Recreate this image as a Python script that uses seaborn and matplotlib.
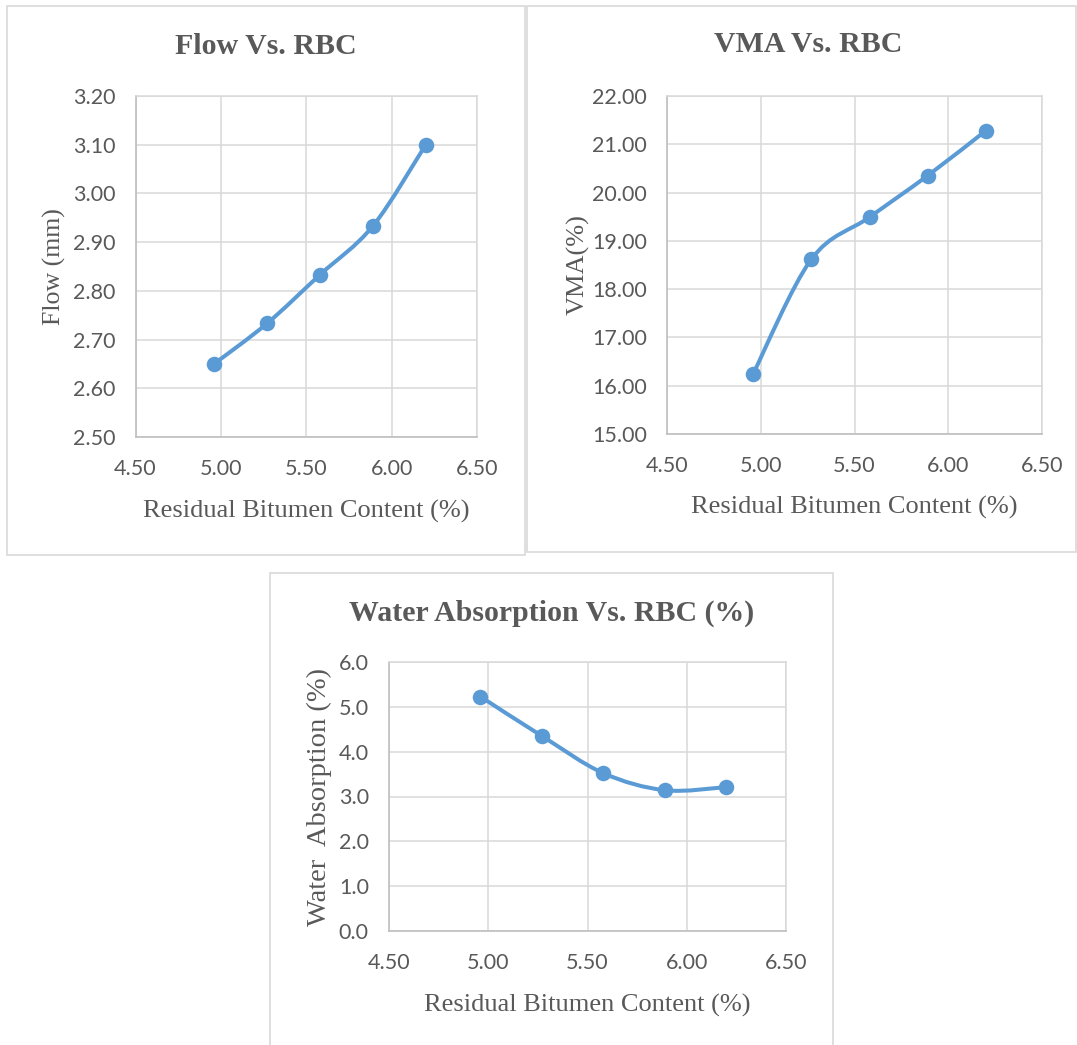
import numpy as np
import pandas as pd
import matplotlib
matplotlib.use("Agg")
import matplotlib.pyplot as plt
from matplotlib.path import Path
from matplotlib.patches import PathPatch, Rectangle
import seaborn as sns

# ---- data ----
rbc = [4.96, 5.27, 5.58, 5.89, 6.20]
flow_mm = [2.65, 2.733, 2.833, 2.933, 3.10]
vma_pct = [16.25, 18.62, 19.49, 20.35, 21.28]
water_abs = [5.23, 4.35, 3.52, 3.14, 3.21]

x_ticks = [4.50, 5.00, 5.50, 6.00, 6.50]
flow_ticks = [2.50, 2.60, 2.70, 2.80, 2.90, 3.00, 3.10, 3.20]
vma_ticks = [15.0, 16.0, 17.0, 18.0, 19.0, 20.0, 21.0, 22.0]
water_ticks = [0.0, 1.0, 2.0, 3.0, 4.0, 5.0, 6.0]

titles = ["Flow Vs. RBC", "VMA Vs. RBC", "Water Absorption Vs. RBC (%)"]
ylabels = ["Flow (mm)", "VMA(%)", "Water  Absorption (%)"]
xlabel = "Residual Bitumen Content (%)"

sns.set_theme(style="whitegrid")
plt.rcParams['font.family'] = ['Lato', 'DejaVu Sans']

W, H = 1077, 1045
fig = plt.figure(figsize=(W / 100, H / 100), dpi=100)

BLUE = "#5B9BD5"
TXT = "#595959"
GRID = "#d9d9d9"
SERIF = ['Liberation Serif', 'DejaVu Serif']


def px_axes(l, t, r, b):
    return fig.add_axes([l / W, 1 - b / H, (r - l) / W, (b - t) / H])


def frame(l, t, r, b):
    fig.patches.append(Rectangle((l / W, 1 - b / H), (r - l) / W, (b - t) / H,
                                 transform=fig.transFigure, fill=False,
                                 edgecolor="#d9d9d9", linewidth=1.2))


def smooth_path(xs, ys):
    pts = np.column_stack([xs, ys]).astype(float)
    n = len(pts)
    verts = [pts[0]]
    codes = [Path.MOVETO]
    for i in range(n - 1):
        p0 = pts[i - 1] if i > 0 else pts[i]
        p1 = pts[i]
        p2 = pts[i + 1]
        p3 = pts[i + 2] if i + 2 < n else pts[i + 1]
        c1 = p1 + (p2 - p0) / 6.0
        c2 = p2 - (p3 - p1) / 6.0
        verts += [c1, c2, p2]
        codes += [Path.CURVE4] * 3
    return Path(verts, codes)


frame(7, 6, 525, 555)
frame(527, 6, 1076, 552)
frame(270, 573, 833, 1046)

panels = [
    dict(box=(135.5, 96, 477, 437), y=flow_mm, yt=flow_ticks, fmt="{:.2f}",
         title_xy=(266, 46), ylab_x=-0.236, xlab_y=-0.217, ylab_fs=18.6),
    dict(box=(667, 96, 1042, 434), y=vma_pct, yt=vma_ticks, fmt="{:.2f}",
         title_xy=(808, 45), ylab_x=-0.237, xlab_y=-0.216, ylab_fs=19),
    dict(box=(389, 662, 786, 931), y=water_abs, yt=water_ticks, fmt="{:.1f}",
         title_xy=(552, 613), ylab_x=-0.176, xlab_y=-0.275, ylab_fs=20.5),
]

for i, p in enumerate(panels):
    ax = px_axes(*p["box"])
    df = pd.DataFrame({"x": rbc, "y": p["y"]})
    ax.add_patch(PathPatch(smooth_path(df["x"], df["y"]), facecolor="none",
                           edgecolor=BLUE, linewidth=2.9, capstyle="round",
                           joinstyle="round", zorder=3))
    sns.scatterplot(data=df, x="x", y="y", ax=ax, color=BLUE, s=125,
                    edgecolor=BLUE, linewidth=0, zorder=4, legend=False)
    ax.set_xlim(x_ticks[0], x_ticks[-1])
    ax.set_ylim(p["yt"][0], p["yt"][-1])
    ax.set_xticks(x_ticks)
    ax.set_yticks(p["yt"])
    ax.set_xticklabels(["{:.2f}".format(v) for v in x_ticks])
    ax.set_yticklabels([p["fmt"].format(v) for v in p["yt"]])
    ax.grid(True, color=GRID, linewidth=1.1)
    ax.set_axisbelow(True)
    for s in ["top", "right"]:
        ax.spines[s].set_visible(True)
        ax.spines[s].set_color(GRID)
        ax.spines[s].set_linewidth(1.1)
    for s in ["left", "bottom"]:
        ax.spines[s].set_color("#bfbfbf")
        ax.spines[s].set_linewidth(1.2)
    ax.tick_params(axis="both", length=0, labelsize=15.5, labelcolor=TXT)
    ax.tick_params(axis="y", pad=14.5)
    ax.tick_params(axis="x", pad=16)
    ax.set_xlabel(xlabel, fontsize=19, color=TXT, family=SERIF, va="center")
    ax.set_ylabel(ylabels[i], fontsize=p["ylab_fs"], color=TXT, family=SERIF,
                  va="center")
    ax.xaxis.set_label_coords(0.5, p["xlab_y"])
    ax.yaxis.set_label_coords(p["ylab_x"], 0.5)
    ax.set_facecolor("white")
    tx, ty = p["title_xy"]
    fig.text(tx / W, 1 - ty / H, titles[i], ha="center", va="center",
             fontsize=21.5, fontweight="bold", color=TXT, family=SERIF)

fig.savefig("out.png", dpi=100, facecolor="white")
